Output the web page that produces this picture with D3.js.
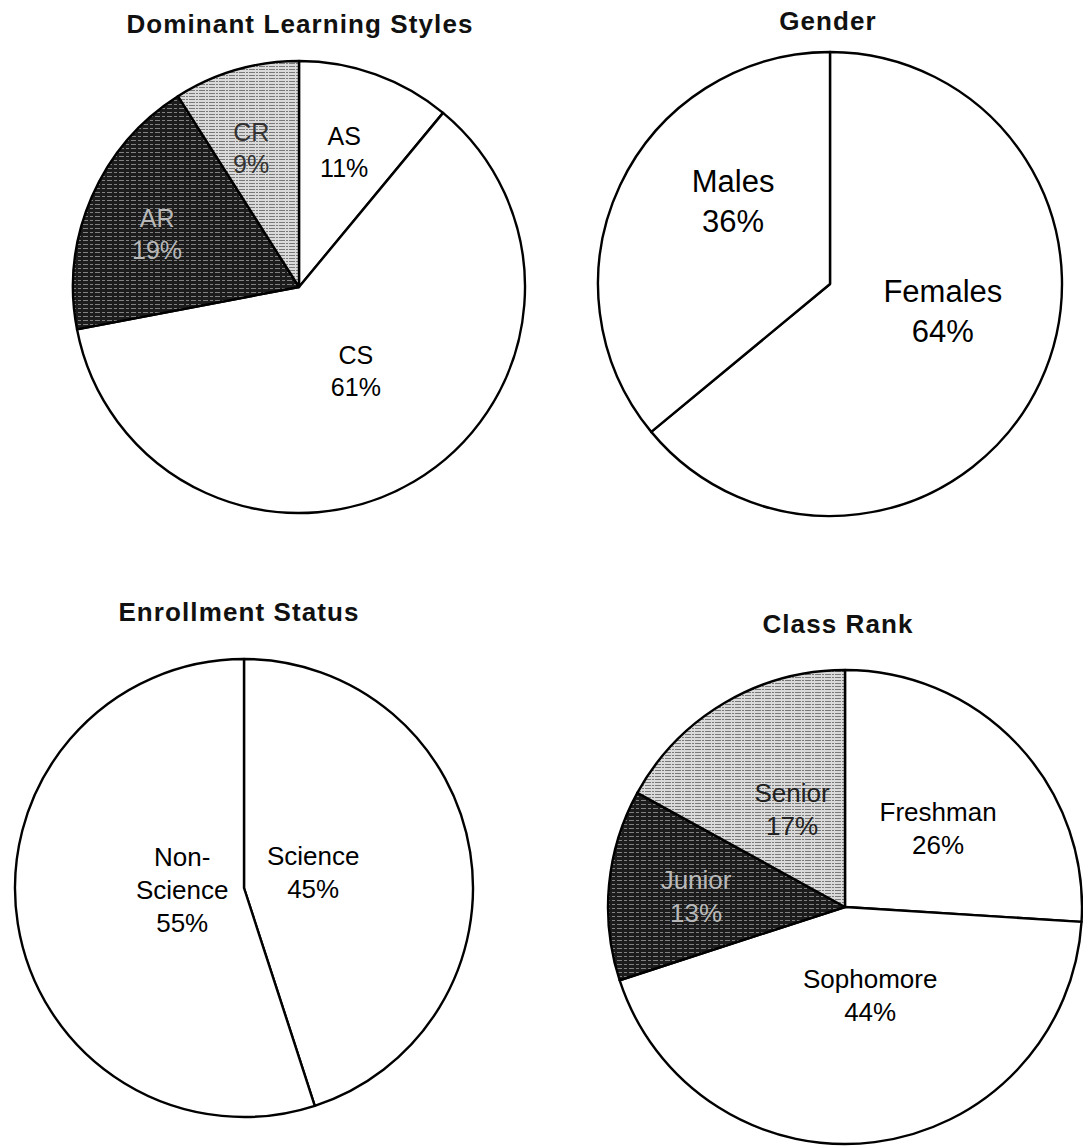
<!DOCTYPE html>
<html>
<head>
<meta charset="utf-8">
<script src="https://cdn.jsdelivr.net/npm/d3@7"></script>
<style>
  html, body { margin: 0; padding: 0; background: #fff; }
  svg { display: block; }
</style>
</head>
<body>
<svg id="chart" width="1083" height="1146"></svg>
<script>
// ---------------- DATA ----------------
const learningCategories = ["AS", "CS", "AR", "CR"];
const learningValues = [11, 61, 19, 9];

const genderCategories = ["Females", "Males"];
const genderValues = [64, 36];

const enrollmentCategories = ["Science", "Non-Science"];
const enrollmentLabels = [["Science"], ["Non-", "Science"]];
const enrollmentValues = [45, 55];

const rankCategories = ["Freshman", "Sophomore", "Junior", "Senior"];
const rankValues = [26, 44, 13, 17];

const chartTitles = ["Dominant Learning Styles", "Gender", "Enrollment Status", "Class Rank"];

// ---------------- LAYOUT ----------------
const svg = d3.select("#chart");
const defs = svg.append("defs");

// dark hatched texture
const dark = defs.append("pattern").attr("id", "dark")
  .attr("patternUnits", "userSpaceOnUse").attr("width", 12).attr("height", 4);
dark.append("rect").attr("width", 12).attr("height", 4).attr("fill", "#1c1c1c");
dark.append("line").attr("x1", 0).attr("x2", 12).attr("y1", 1.5).attr("y2", 1.5)
  .attr("stroke", "#9a9a9a").attr("stroke-width", 0.8).attr("stroke-dasharray", "5,2,3,2");

// light hatched texture
const light = defs.append("pattern").attr("id", "light")
  .attr("patternUnits", "userSpaceOnUse").attr("width", 10).attr("height", 3);
light.append("rect").attr("width", 10).attr("height", 3).attr("fill", "#dadada");
light.append("line").attr("x1", 0).attr("x2", 10).attr("y1", 1.5).attr("y2", 1.5)
  .attr("stroke", "#6e6e6e").attr("stroke-width", 0.9).attr("stroke-dasharray", "6,1,2,1");

const charts = [
  {
    title: chartTitles[0], titleX: 300, titleY: 33,
    cx: 299, cy: 287, r: 226,
    cats: learningCategories, vals: learningValues,
    lines: learningCategories.map(c => [c]),
    fills: ["#fff", "#fff", "url(#dark)", "url(#light)"],
    textFill: ["#000", "#000", "#b8b8b8", "#333"],
    labelFrac: [0.63, 0.45, 0.67, 0.65],
    labelShift: [-1.3, -3.4, -3, -2.8],
    font: 25, ls: 32
  },
  {
    title: chartTitles[1], titleX: 828, titleY: 30,
    cx: 830, cy: 284, r: 232,
    cats: genderCategories, vals: genderValues,
    lines: genderCategories.map(c => [c]),
    fills: ["#fff", "#fff"],
    textFill: ["#000", "#000"],
    labelFrac: [0.5, 0.55],
    labelShift: [-11.8, 15.4],
    font: 31, ls: 40
  },
  {
    title: chartTitles[2], titleX: 239, titleY: 621,
    cx: 244, cy: 888, r: 229,
    cats: enrollmentCategories, vals: enrollmentValues,
    lines: enrollmentLabels,
    fills: ["#fff", "#fff"],
    textFill: ["#000", "#000"],
    labelFrac: [0.31, 0.27],
    labelShift: [-4, 7],
    font: 26, ls: 33
  },
  {
    title: chartTitles[3], titleX: 838, titleY: 633,
    cx: 845, cy: 907, r: 237,
    cats: rankCategories, vals: rankValues,
    lines: rankCategories.map(c => [c]),
    fills: ["#fff", "#fff", "url(#dark)", "url(#light)"],
    textFill: ["#000", "#000", "#b8b8b8", "#222"],
    labelFrac: [0.515, 0.385, 0.63, 0.47],
    labelShift: [2.9, -8.8, -1.4, 2.2],
    font: 26, ls: 33
  }
];

charts.forEach(ch => {
  const pie = d3.pie().sort(null).startAngle(0).endAngle(2 * Math.PI);
  const arcs = pie(ch.vals);
  const arc = d3.arc().innerRadius(0).outerRadius(ch.r);
  const g = svg.append("g").attr("transform", `translate(${ch.cx},${ch.cy})`);

  g.selectAll("path.slice").data(arcs).join("path")
    .attr("class", "slice")
    .attr("d", arc)
    .attr("fill", (d, i) => ch.fills[i])
    .attr("stroke", "#000")
    .attr("stroke-width", 2.4)
    .attr("stroke-linejoin", "round");

  // labels
  arcs.forEach((d, i) => {
    const mid = (d.startAngle + d.endAngle) / 2 + ch.labelShift[i] * Math.PI / 180;
    const rr = ch.r * ch.labelFrac[i];
    const x = Math.sin(mid) * rr;
    const y = -Math.cos(mid) * rr;
    const lines = ch.lines[i].concat([d.data + "%"]);
    const capH = ch.font * 0.716;
    const firstBase = y - (lines.length - 1) * ch.ls / 2 + capH / 2;
    const t = g.append("text")
      .attr("text-anchor", "middle")
      .attr("font-family", "'Liberation Sans', Arial, sans-serif")
      .attr("font-size", ch.font)
      .attr("fill", ch.textFill[i]);
    lines.forEach((ln, k) => {
      t.append("tspan").attr("x", x).attr("y", firstBase + k * ch.ls).text(ln);
    });
  });

  svg.append("text")
    .attr("x", ch.titleX).attr("y", ch.titleY)
    .attr("text-anchor", "middle")
    .attr("font-family", "'Liberation Sans', Arial, sans-serif")
    .attr("font-weight", "bold")
    .attr("font-size", 26)
    .attr("letter-spacing", 1.1)
    .attr("fill", "#111")
    .text(ch.title);
});
</script>
</body>
</html>
